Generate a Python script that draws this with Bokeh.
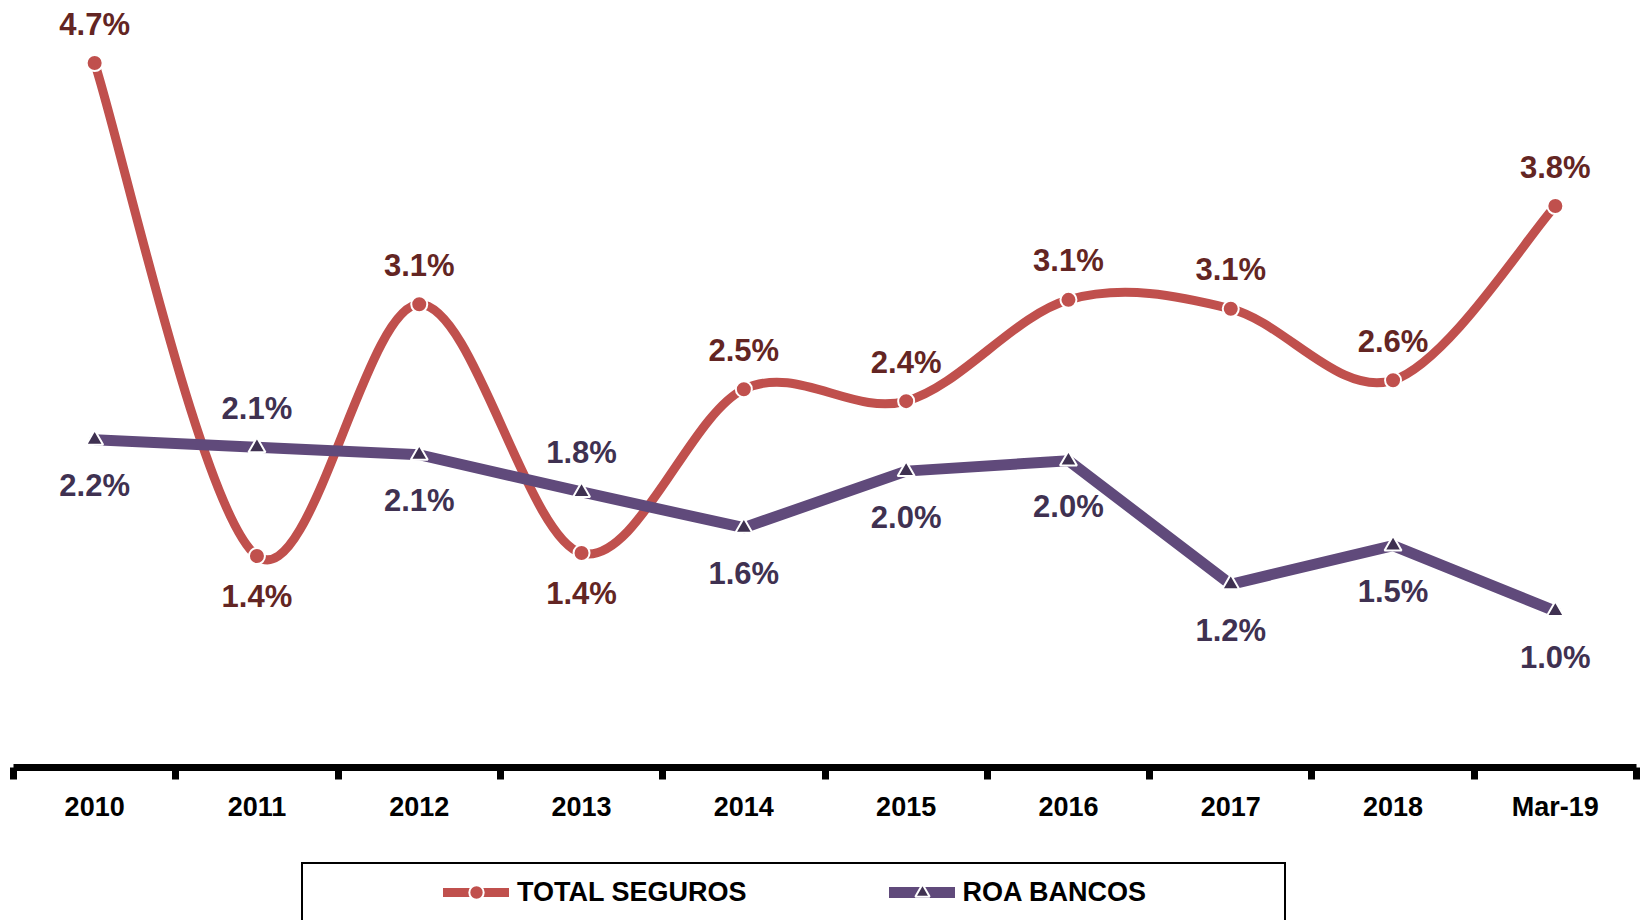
from bokeh.plotting import figure
from bokeh.models import Range1d, FixedTicker, Legend, LegendItem, ColumnDataSource
from bokeh.layouts import column
from bokeh.core.properties import value
from bokeh.embed import file_html
from bokeh.resources import INLINE

# ---------------- data ----------------
categories = ["2010", "2011", "2012", "2013", "2014", "2015", "2016", "2017", "2018", "Mar-19"]
total_seguros = [4.73, 1.42, 3.11, 1.44, 2.54, 2.46, 3.14, 3.08, 2.60, 3.77]
roa_bancos = [2.20, 2.15, 2.10, 1.85, 1.61, 1.99, 2.06, 1.23, 1.49, 1.05]
ts_labels = ["4.7%", "1.4%", "3.1%", "1.4%", "2.5%", "2.4%", "3.1%", "3.1%", "2.6%", "3.8%"]
roa_labels = ["2.2%", "2.1%", "2.1%", "1.8%", "1.6%", "2.0%", "2.0%", "1.2%", "1.5%", "1.0%"]
ts_label_side = ["above", "below", "above", "below", "above", "above", "above", "above", "above", "above"]
roa_label_side = ["below", "above", "below", "above", "below", "below", "below", "below", "below", "below"]
series_names = ["TOTAL SEGUROS", "ROA BANCOS"]

RED = "#C0504D"
RED_TXT = "#632523"
PURPLE = "#604A7B"
PURPLE_DARK = "#3F3151"
FONT = "Liberation Sans"

xs = list(range(len(categories)))

p = figure(width=1640, height=860, x_range=Range1d(-0.5, len(categories) - 0.5),
           y_range=Range1d(0, 5.15), output_backend="svg", toolbar_location=None,
           y_axis_location=None, min_border_left=13, min_border_right=4,
           min_border_top=0, min_border_bottom=93)
p.outline_line_color = None
p.xgrid.visible = False
p.ygrid.visible = False

ax = p.xaxis[0]
ax.ticker = FixedTicker(ticks=xs, minor_ticks=[i - 0.5 for i in range(len(categories) + 1)])
ax.major_label_overrides = {i: c for i, c in enumerate(categories)}
ax.axis_line_width = 7
ax.axis_line_color = "black"
ax.major_tick_line_color = None
ax.major_tick_in = 0
ax.major_tick_out = 0
ax.minor_tick_line_color = "black"
ax.minor_tick_line_width = 7
ax.minor_tick_in = 0
ax.minor_tick_out = 12
ax.major_label_text_font = FONT
ax.major_label_text_font_style = "bold"
ax.major_label_text_font_size = "27px"
ax.major_label_text_color = "black"
ax.major_label_standoff = 12

# ---- smooth (Catmull-Rom style bezier) path for TOTAL SEGUROS ----
n = len(total_seguros)
x0, y0, x1, y1, cx0, cy0, cx1, cy1 = [], [], [], [], [], [], [], []
for i in range(n - 1):
    xp = xs[i - 1] if i > 0 else xs[i]
    yp = total_seguros[i - 1] if i > 0 else total_seguros[i]
    xn2 = xs[i + 2] if i + 2 < n else xs[i + 1]
    yn2 = total_seguros[i + 2] if i + 2 < n else total_seguros[i + 1]
    x0.append(xs[i]); y0.append(total_seguros[i])
    x1.append(xs[i + 1]); y1.append(total_seguros[i + 1])
    cx0.append(xs[i] + (xs[i + 1] - xp) / 6.0)
    cy0.append(total_seguros[i] + (total_seguros[i + 1] - yp) / 6.0)
    cx1.append(xs[i + 1] - (xn2 - xs[i]) / 6.0)
    cy1.append(total_seguros[i + 1] - (yn2 - total_seguros[i]) / 6.0)

p.bezier(x0=x0, y0=y0, x1=x1, y1=y1, cx0=cx0, cy0=cy0, cx1=cx1, cy1=cy1,
         line_color=RED, line_width=9, line_cap="round")
p.scatter(x=xs, y=total_seguros, marker="circle", size=16,
          fill_color=RED, line_color="white", line_width=2)

p.line(x=xs, y=roa_bancos, line_color=PURPLE, line_width=11,
       line_cap="round", line_join="round")
p.scatter(x=xs, y=roa_bancos, marker="triangle", size=17,
          fill_color=PURPLE_DARK, line_color="white", line_width=2)

# ---- data labels ----
ts_src = ColumnDataSource(dict(x=xs, y=total_seguros, t=ts_labels,
                               off=[-39 if s == "above" else 40 for s in ts_label_side]))
roa_src = ColumnDataSource(dict(x=xs, y=roa_bancos, t=roa_labels,
                                off=[-39 if s == "above" else 46 for s in roa_label_side]))
p.text(x="x", y="y", text="t", y_offset="off", source=ts_src, text_align="center",
       text_baseline="middle", text_font=value(FONT), text_font_style="bold",
       text_font_size="31px", text_color=RED_TXT)
p.text(x="x", y="y", text="t", y_offset="off", source=roa_src, text_align="center",
       text_baseline="middle", text_font=value(FONT), text_font_style="bold",
       text_font_size="31px", text_color=PURPLE_DARK)

# ---------------- legend strip ----------------
lf = figure(width=1640, height=60, x_range=Range1d(0, 1), y_range=Range1d(0, 1),
            output_backend="svg", toolbar_location=None, x_axis_location=None,
            y_axis_location=None, min_border=0)
lf.outline_line_color = None
lf.xgrid.visible = False
lf.ygrid.visible = False

# legend key renderers (their data lies outside the visible range; only the keys show)
off_x = [-5, -4]
off_y = [-5, -5]
dummy = lf.line(x=off_x, y=off_y, line_alpha=0)
k_ts_line = lf.line(x=off_x, y=off_y, line_color=RED, line_width=9, line_cap="round")
k_ts_pt = lf.scatter(x=off_x, y=off_y, marker="circle", fill_color=RED,
                     line_color="white", line_width=2)
k_roa_line = lf.line(x=off_x, y=off_y, line_color=PURPLE, line_width=11, line_cap="round")
k_roa_pt = lf.scatter(x=off_x, y=off_y, marker="triangle", fill_color=PURPLE_DARK,
                      line_color="white", line_width=2)

box_leg = Legend(items=[LegendItem(label=" ", renderers=[dummy])],
                 location=(288, -4), orientation="horizontal",
                 padding=0, margin=0, glyph_width=1, glyph_height=1, label_standoff=0,
                 label_width=980, label_height=58, spacing=0,
                 border_line_color="black", border_line_width=2, border_line_alpha=1,
                 background_fill_color="white", background_fill_alpha=1,
                 label_text_font_size="10px")
lf.add_layout(box_leg, "center")

leg = Legend(items=[LegendItem(label=series_names[0], renderers=[k_ts_line, k_ts_pt]),
                    LegendItem(label=series_names[1], renderers=[k_roa_line, k_roa_pt])],
             location=(430, 10), orientation="horizontal",
             padding=0, margin=0, glyph_width=66, glyph_height=36, label_standoff=8,
             label_height=36, spacing=142,
             border_line_color=None, background_fill_alpha=0,
             label_text_font=FONT, label_text_font_style="bold",
             label_text_font_size="27px", label_text_color="black",
             label_text_baseline="middle")
lf.add_layout(leg, "center")

layout = column(p, lf, spacing=0)
open("out.html", "w").write(file_html(layout, INLINE))
